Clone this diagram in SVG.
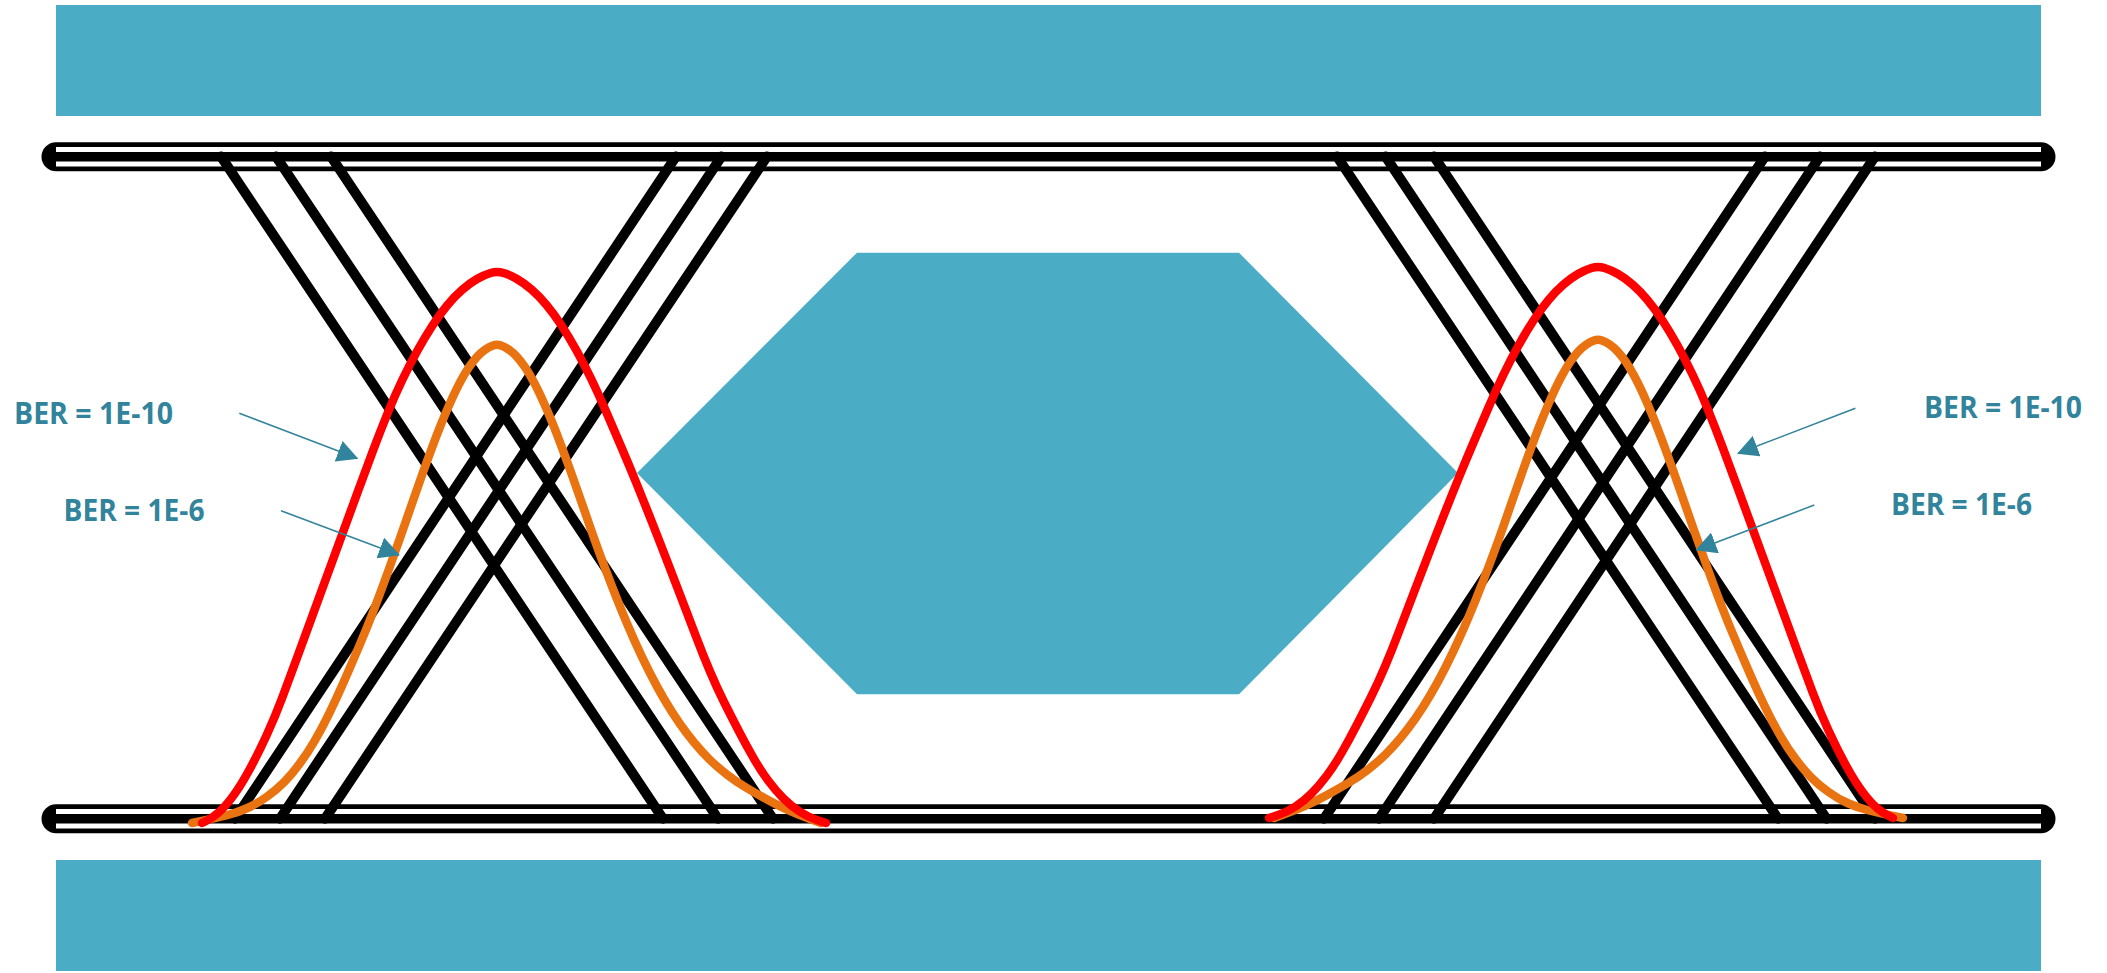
<svg xmlns="http://www.w3.org/2000/svg" width="2107" height="973" viewBox="0 0 2107 973">
<defs>
<style>
.bar{fill:#4BACC6}
.hex{fill:#4BACC6}
.rail-o{stroke:#000;stroke-width:29;stroke-linecap:round}
.rail-w{stroke:#fff;stroke-width:19.5}
.rail-c{stroke:#000;stroke-width:9.5}
.tr{stroke:#000;stroke-width:10;stroke-linecap:round}
.red{fill:none;stroke:#FF0000;stroke-width:8.5;stroke-linejoin:round;stroke-linecap:round}
.org{fill:none;stroke:#E97311;stroke-width:8.5;stroke-linejoin:round;stroke-linecap:round}
.lbl{font-family:'Open Sans','Liberation Sans',Arial,sans-serif;font-weight:700;font-size:30px;fill:#31849B}
.arr{stroke:#31849B;stroke-width:1.5;fill:none;marker-end:url(#ah)}
</style>
<marker id="ah" markerUnits="userSpaceOnUse" markerWidth="21" markerHeight="22" viewBox="0 0 21 22" refX="20" refY="11" orient="auto"><path d="M0,0 L21,11 L0,22 Z" fill="#31849B"/></marker>
</defs>

<g id="bar-top"><rect class="bar" x="56" y="5" width="1985" height="111"/></g>
<g id="bar-bottom"><rect class="bar" x="56" y="860" width="1985" height="111"/></g>
<g id="eye-opening"><polygon class="hex" points="857,252.7 1239,252.7 1458,473 1239,694.3 857,694.3 637,473"/></g>

<g id="rail-top">
<line class="rail-o" x1="56" y1="156.7" x2="2041" y2="156.7"/>
<line class="rail-w" x1="56" y1="156.7" x2="2041" y2="156.7"/>
<line class="rail-c" x1="56" y1="156.7" x2="2041" y2="156.7"/>
</g>
<g id="rail-bottom">
<line class="rail-o" x1="56" y1="818.7" x2="2041" y2="818.7"/>
<line class="rail-w" x1="56" y1="818.7" x2="2041" y2="818.7"/>
<line class="rail-c" x1="56" y1="818.7" x2="2041" y2="818.7"/>
</g>

<g id="crossing-left">
<line class="tr" x1="221" y1="156.5" x2="663" y2="818.7"/>
<line class="tr" x1="276" y1="156.5" x2="718" y2="818.7"/>
<line class="tr" x1="331" y1="156.5" x2="773" y2="818.7"/>
<line class="tr" x1="676" y1="156.5" x2="235" y2="818.7"/>
<line class="tr" x1="721.5" y1="156.5" x2="280" y2="818.7"/>
<line class="tr" x1="767" y1="156.5" x2="325" y2="818.7"/>
<path id="org-left" class="org" d="M192,823 L204.5,820.4 Q217,817.8 227,815.25 Q237,812.7 247,808.25 Q257,803.8 267,796.6 Q277,789.4 284.5,781.7 Q292,774 299.5,763.9 Q307,753.8 314.5,741.05 Q322,728.3 329.5,712.85 Q337,697.4 344.5,680.25 Q352,663.1 359.5,645.4 Q367,627.7 374.5,608.15 Q382,588.6 389.5,567.65 Q397,546.7 402,532.35 Q407,518 412,503.6 Q417,489.2 422,475.15 Q427,461.1 432,447.7 Q437,434.3 442,421.95 Q447,409.6 452,398.75 Q457,387.9 461,380.55 Q465,373.2 469,367.2 Q473,361.2 477,356.8 Q481,352.4 485,349.65 Q489,346.9 493,345.45 Q497,344 501,345.45 Q505,346.9 509,349.65 Q513,352.4 517,356.8 Q521,361.2 525,367.2 Q529,373.2 533,380.55 Q537,387.9 542,398.75 Q547,409.6 552,421.95 Q557,434.3 562,447.7 Q567,461.1 572,475.15 Q577,489.2 582,503.6 Q587,518 592,532.35 Q597,546.7 604.5,566.75 Q612,586.8 619.5,605.4 Q627,624 634.5,640.75 Q642,657.5 649.5,672.25 Q657,687 664.5,699.75 Q672,712.5 679.5,723.25 Q687,734 694.5,743.05 Q702,752.1 709.5,759.45 Q717,766.8 727,774.55 Q737,782.3 747,788.15 Q757,794 767,799.5 Q777,805 787,809.5 Q797,814 809,818.5 L821,823"/>
<path id="red-left" class="red" d="M202,823 L207,820.5 Q212,818 218,813 Q224,808 232,797.5 Q240,787 249,770.5 Q258,754 266.5,735.5 Q275,717 282.5,697 Q290,677 297.5,656.5 Q305,636 312.5,615.5 Q320,595 327.5,574.5 Q335,554 342.5,533.5 Q350,513 357.5,492.5 Q365,472 372.5,452 Q380,432 387.5,413.5 Q395,395 402.5,379.5 Q410,364 417.5,350.5 Q425,337 432.5,325.5 Q440,314 447.5,305 Q455,296 462.5,289.5 Q470,283 477,279 Q484,275 490.5,273 Q497,271 503.5,273 Q510,275 517,279 Q524,283 531.5,289.5 Q539,296 546.5,305 Q554,314 561.5,325.5 Q569,337 576.5,350.5 Q584,364 591.5,379.5 Q599,395 606.5,412.5 Q614,430 621.5,447.5 Q629,465 636.5,483.5 Q644,502 651.5,521 Q659,540 666.5,559.5 Q674,579 681.5,598.5 Q689,618 696,636.5 Q703,655 710,671.5 Q717,688 724,702 Q731,716 738.5,730.5 Q746,745 753.5,758 Q761,771 768.5,781 Q776,791 783.5,798.5 Q791,806 799.5,811.5 Q808,817 817,820 L826,823"/>
</g>

<g id="crossing-right">
<line class="tr" x1="1337" y1="156.5" x2="1778" y2="818.7"/>
<line class="tr" x1="1385.5" y1="156.5" x2="1826.5" y2="818.7"/>
<line class="tr" x1="1434" y1="156.5" x2="1875" y2="818.7"/>
<line class="tr" x1="1765" y1="156.5" x2="1324" y2="818.7"/>
<line class="tr" x1="1820" y1="156.5" x2="1379" y2="818.7"/>
<line class="tr" x1="1875" y1="156.5" x2="1434" y2="818.7"/>
<use href="#org-left" transform="matrix(-1 0 0 1 2095 -5)"/>
<use href="#red-left" transform="matrix(-1 0 0 1 2095 -5)"/>
</g>

<g id="label-left-1e10"><text class="lbl" x="14" y="424" textLength="159" lengthAdjust="spacingAndGlyphs">BER = 1E-10</text></g>
<g id="label-left-1e6"><text class="lbl" x="63.5" y="520.7" textLength="141" lengthAdjust="spacingAndGlyphs">BER = 1E-6</text></g>
<g id="label-right-1e10"><text class="lbl" x="1924" y="418.3" textLength="158" lengthAdjust="spacingAndGlyphs">BER = 1E-10</text></g>
<g id="label-right-1e6"><text class="lbl" x="1891" y="515" textLength="141" lengthAdjust="spacingAndGlyphs">BER = 1E-6</text></g>

<g id="connectors">
<line class="arr" x1="239.3" y1="413.3" x2="357.3" y2="458.3"/>
<line class="arr" x1="281" y1="510.7" x2="399" y2="555"/>
<line class="arr" x1="1855.4" y1="408.3" x2="1738" y2="453.3"/>
<line class="arr" x1="1814.3" y1="505" x2="1696.3" y2="550"/>
</g>
</svg>
